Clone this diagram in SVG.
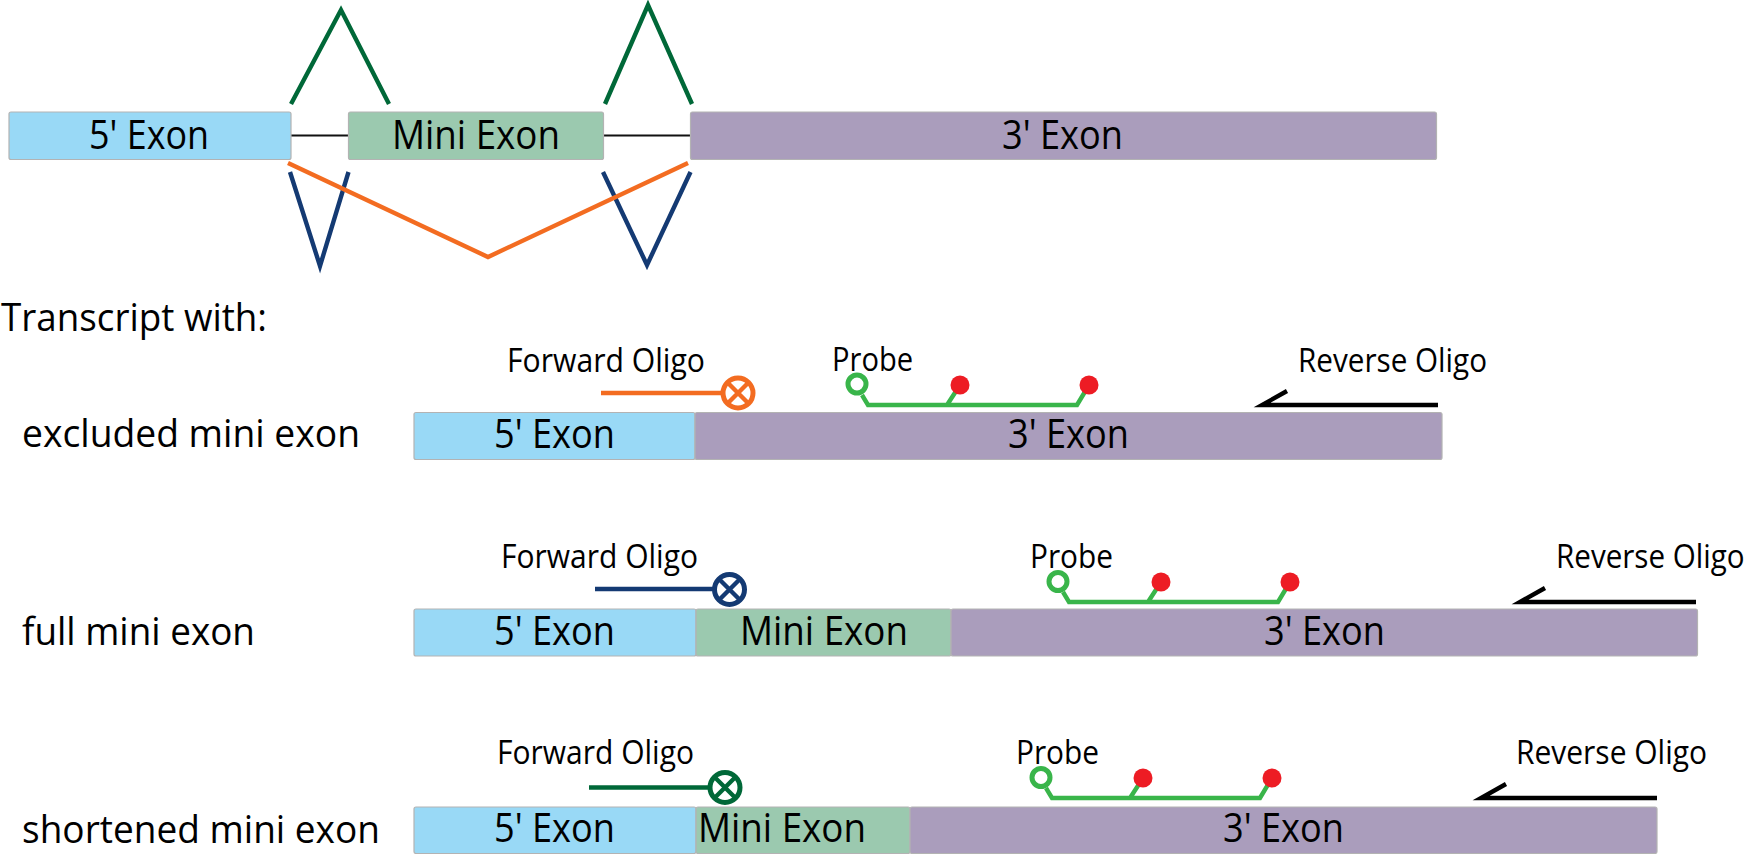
<svg xmlns="http://www.w3.org/2000/svg" width="1746" height="854" viewBox="0 0 1746 854">
<style>
text{font-family:"Open Sans","Noto Sans","Liberation Sans",sans-serif;fill:#000}
.ex{font-size:41px;text-anchor:start}
.sm{font-size:32px}
.lb{font-size:39px}
.e5{fill:#99D9F6}.em{fill:#9BC9AF}.e3{fill:#AA9DBC}
.box{stroke:#B3B3B3;stroke-width:1.2}
.ln{fill:none;stroke-width:4.4;stroke-miterlimit:10}
.g{stroke:#006838}.b{stroke:#143A73}.o{stroke:#F36C21}.p{stroke:#39B54A}.k{stroke:#000}
.oc{fill:#fff;stroke-width:5}
.red{fill:#ED1C24}
</style>
<rect width="1746" height="854" fill="#fff"/>
<g id="connectors">
<path d="M291 135.500H348M603 135.500H690" fill="none" stroke="#111" stroke-width="2"/>
<path class="ln g" d="M291 104L341 10L389 104"/>
<path class="ln g" d="M605 104L648 5L692 104"/>
<path class="ln b" d="M290 172L320 266L348.500 172"/>
<path class="ln b" d="M603 172L647 265L690.500 172"/>
<path class="ln o" d="M288 163L488 257L688 163"/>
</g>
<g id="top-5-exon"><rect class="box e5" x="9" y="112" width="282" height="47.500" rx="2"/><text class="ex" x="89" y="148.500" textLength="120" lengthAdjust="spacingAndGlyphs">5' Exon</text></g>
<g id="top-mini-exon"><rect class="box em" x="348.500" y="112" width="255" height="47.500" rx="2"/><text class="ex" x="392" y="148.500" textLength="168" lengthAdjust="spacingAndGlyphs">Mini Exon</text></g>
<g id="top-3-exon"><rect class="box e3" x="690.500" y="112" width="746" height="47.500" rx="2"/><text class="ex" x="1002" y="148.500" textLength="121" lengthAdjust="spacingAndGlyphs">3' Exon</text></g>
<g id="transcript-label"><text class="lb" x="1" y="331" textLength="266" lengthAdjust="spacingAndGlyphs">Transcript with:</text></g>

<g id="row1-label"><text class="lb" x="22" y="447" textLength="338" lengthAdjust="spacingAndGlyphs">excluded mini exon</text></g>
<g id="row1-5-exon"><rect class="box e5" x="414" y="412.500" width="281" height="47" rx="2"/><text class="ex" x="494" y="448" textLength="121" lengthAdjust="spacingAndGlyphs">5' Exon</text></g>
<g id="row1-3-exon"><rect class="box e3" x="695" y="412.500" width="747" height="47" rx="2"/><text class="ex" x="1008" y="448" textLength="121" lengthAdjust="spacingAndGlyphs">3' Exon</text></g>
<g id="row1-forward"><text class="sm" x="507" y="372" textLength="198" lengthAdjust="spacingAndGlyphs">Forward Oligo</text>
<path class="ln o" d="M601 393H724"/><circle class="oc o" cx="738" cy="393" r="15"/><path class="ln o" d="M728 383L748 403M748 383L728 403"/></g>
<g id="row1-probe"><text class="sm" x="832" y="371" textLength="81" lengthAdjust="spacingAndGlyphs">Probe</text>
<path class="ln p" d="M862 395L868 405H1077L1089 385M947 405L960 385"/><circle class="oc p" cx="857" cy="384" r="9"/><circle class="red" cx="960" cy="385" r="9.500"/><circle class="red" cx="1089" cy="385" r="9.500"/></g>
<g id="row1-reverse"><text class="sm" x="1298" y="372" textLength="189" lengthAdjust="spacingAndGlyphs">Reverse Oligo</text>
<path class="ln k" d="M1438 405H1262L1287 391"/></g>

<g id="row2-label"><text class="lb" x="22" y="645" textLength="233" lengthAdjust="spacingAndGlyphs">full mini exon</text></g>
<g id="row2-5-exon"><rect class="box e5" x="414" y="609" width="282" height="47" rx="2"/><text class="ex" x="494" y="644.500" textLength="121" lengthAdjust="spacingAndGlyphs">5' Exon</text></g>
<g id="row2-mini-exon"><rect class="box em" x="696" y="609" width="255" height="47" rx="2"/><text class="ex" x="740" y="644.500" textLength="168" lengthAdjust="spacingAndGlyphs">Mini Exon</text></g>
<g id="row2-3-exon"><rect class="box e3" x="951" y="609" width="746.500" height="47" rx="2"/><text class="ex" x="1264" y="644.500" textLength="121" lengthAdjust="spacingAndGlyphs">3' Exon</text></g>
<g id="row2-forward"><text class="sm" x="501" y="568" textLength="197" lengthAdjust="spacingAndGlyphs">Forward Oligo</text>
<path class="ln b" d="M595 589H716"/><circle class="oc b" cx="729.500" cy="589.500" r="15"/><path class="ln b" d="M719.500 579.500L739.500 599.500M739.500 579.500L719.500 599.500"/></g>
<g id="row2-probe"><text class="sm" x="1030" y="568" textLength="83" lengthAdjust="spacingAndGlyphs">Probe</text>
<path class="ln p" d="M1063 592L1069 602H1278L1290 582M1148 602L1161 582"/><circle class="oc p" cx="1058" cy="581.500" r="9"/><circle class="red" cx="1161" cy="582" r="9.500"/><circle class="red" cx="1290" cy="582" r="9.500"/></g>
<g id="row2-reverse"><text class="sm" transform="translate(1556 568) scale(0.925 1)" x="0" y="0">Reverse Oligo</text>
<path class="ln k" d="M1696 602H1520L1545 588"/></g>

<g id="row3-label"><text class="lb" x="22" y="842.500" textLength="358" lengthAdjust="spacingAndGlyphs">shortened mini exon</text></g>
<g id="row3-5-exon"><rect class="box e5" x="414" y="807" width="282" height="46.500" rx="2"/><text class="ex" x="494" y="842" textLength="121" lengthAdjust="spacingAndGlyphs">5' Exon</text></g>
<g id="row3-mini-exon"><rect class="box em" x="696" y="807" width="214" height="46.500" rx="2"/><text class="ex" x="698" y="842" textLength="168" lengthAdjust="spacingAndGlyphs">Mini Exon</text></g>
<g id="row3-3-exon"><rect class="box e3" x="910" y="807" width="747" height="46.500" rx="2"/><text class="ex" x="1223" y="842" textLength="121" lengthAdjust="spacingAndGlyphs">3' Exon</text></g>
<g id="row3-forward"><text class="sm" x="497" y="764" textLength="197" lengthAdjust="spacingAndGlyphs">Forward Oligo</text>
<path class="ln g" d="M589 787.500H712"/><circle class="oc g" cx="725" cy="787.500" r="15"/><path class="ln g" d="M715 777.500L735 797.500M735 777.500L715 797.500"/></g>
<g id="row3-probe"><text class="sm" x="1016" y="764" textLength="83" lengthAdjust="spacingAndGlyphs">Probe</text>
<path class="ln p" d="M1046 788L1052 798H1260L1272 778M1130 798L1143 778"/><circle class="oc p" cx="1041" cy="777.500" r="9"/><circle class="red" cx="1143" cy="778" r="9.500"/><circle class="red" cx="1272" cy="778" r="9.500"/></g>
<g id="row3-reverse"><text class="sm" x="1516" y="764" textLength="191" lengthAdjust="spacingAndGlyphs">Reverse Oligo</text>
<path class="ln k" d="M1657 798H1481L1506 784"/></g>
</svg>
